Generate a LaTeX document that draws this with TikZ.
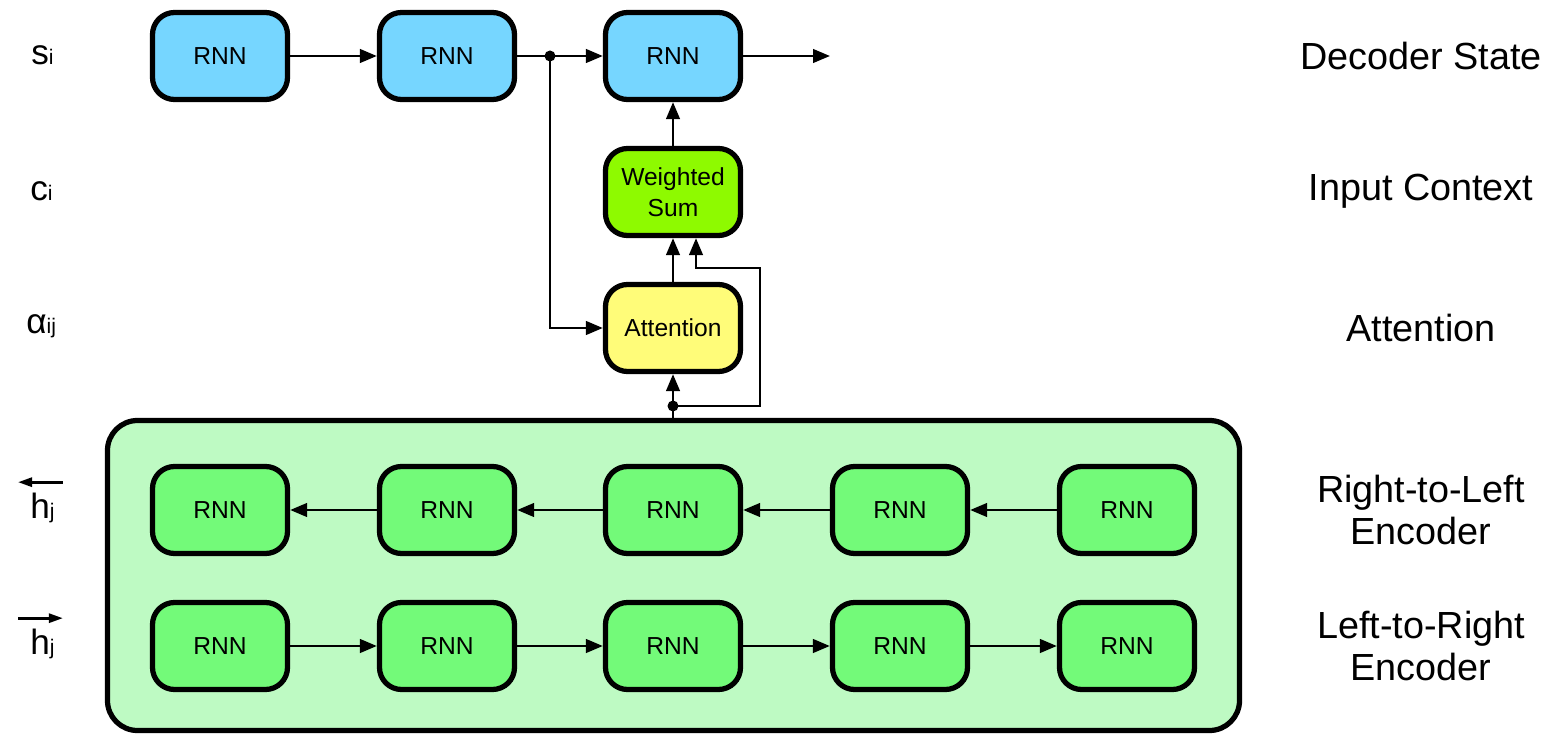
\documentclass[tikz,border=0pt]{standalone}
\usepackage{fontspec}
\setmainfont{Liberation Sans}
\usetikzlibrary{arrows.meta}
\definecolor{decblue}{HTML}{76D6FF}
\definecolor{sumgreen}{HTML}{8EFA00}
\definecolor{attyellow}{HTML}{FFFC79}
\definecolor{encgreen}{HTML}{73FA79}
\definecolor{encback}{HTML}{BEFAC3}
\tikzset{
  rnn/.style={draw, line width=1.05mm, rounded corners=4.4mm, minimum width=27mm,
    minimum height=17.4mm, align=center, font=\fontsize{14}{17.6}\selectfont},
  dec/.style={rnn, fill=decblue},
  enc/.style={rnn, fill=encgreen},
  arr/.style={-{Triangle[length=3.4mm,width=2.7mm]}, line width=0.55mm},
  overarr/.style={line width=0.55mm},
  side/.style={align=center, font=\fontsize{21.5}{24}\selectfont},
  sym/.style={inner sep=0pt, anchor=base west, font=\fontsize{20}{24}\selectfont},
}
\newcommand{\sub}[1]{{\fontsize{12}{14}\selectfont #1}}
\begin{document}
\begin{tikzpicture}[x=0.2mm, y=-0.2mm]
    \useasboundingbox (0,0) rectangle (1552,736);

    % Encoder background
    \node[draw, line width=1.05mm, rounded corners=6mm, fill=encback,
          minimum width=226.4mm, minimum height=62mm] (enc) at (673.5,575.5) {};

    % Nodes
    \node[dec] (Dec1) at (220,56) {RNN};
    \node[dec] (Dec2) at (447,56) {RNN};
    \node[dec] (Dec3) at (673,56) {RNN};
    \node[rnn, fill=sumgreen] (WSum) at (673,192) {Weighted\\Sum};
    \node[rnn, fill=attyellow] (Att) at (673,328) {Attention};

    \node[enc] (RL1) at (220,510) {RNN};
    \node[enc] (RL2) at (447,510) {RNN};
    \node[enc] (RL3) at (673,510) {RNN};
    \node[enc] (RL4) at (900,510) {RNN};
    \node[enc] (RL5) at (1127,510) {RNN};

    \node[enc] (LR1) at (220,646) {RNN};
    \node[enc] (LR2) at (447,646) {RNN};
    \node[enc] (LR3) at (673,646) {RNN};
    \node[enc] (LR4) at (900,646) {RNN};
    \node[enc] (LR5) at (1127,646) {RNN};

    \coordinate (Out) at (830,56);
    \coordinate (Split) at (550,56);
    \coordinate (Tap) at (673,406);
    \coordinate (Loop) at (760,268);

    % Labels
    \node[sym] (SI) at (31,65) {s\sub{i}};
    \node[sym] (CI) at (30,201) {c\sub{i}};
    \node[sym] (AIJ) at (26,334) {α\sub{ij}};
    \node[sym] (HL) at (30,518) {h\sub{j}};
    \node[sym] (HR) at (30,654) {h\sub{j}};

    \node[side] (LDec) at (1421,56) {Decoder State};
    \node[side] (LCtx) at (1421,191) {Input Context};
    \node[side] (LAtt) at (1421,328) {Attention};
    \node[side] (LRL) at (1421,510) {Right-to-Left\\Encoder};
    \node[side] (LLR) at (1421,646) {Left-to-Right\\Encoder};

    % Arrows
    \draw[arr] (Dec1) -- (Dec2);
    \draw[arr] (Dec2) -- (Dec3);
    \draw[arr] (Dec3) -- (Out);
    \draw[arr] (Split) |- (Att);
    \draw[arr] (Att) -- (WSum);
    \draw[arr] (WSum) -- (Dec3);
    \draw[arr] (Tap) -- (Att);
    \draw[line width=0.55mm] (Tap) -- (enc.north -| Tap);
    \draw[arr] (Tap) -| (Loop) -| ([xshift=4.6mm]WSum.south);
    \fill (Split) circle (1.1mm);
    \fill (Tap) circle (1.1mm);

    \draw[arr] (RL5) -- (RL4);
    \draw[arr] (RL4) -- (RL3);
    \draw[arr] (RL3) -- (RL2);
    \draw[arr] (RL2) -- (RL1);

    \draw[arr] (LR1) -- (LR2);
    \draw[arr] (LR2) -- (LR3);
    \draw[arr] (LR3) -- (LR4);
    \draw[arr] (LR4) -- (LR5);

    % arrows over h
    \draw[{Triangle[length=2.8mm,width=1.8mm]}-, overarr]
        ([shift={(-2.4mm,2mm)}]HL.north west) -- ([shift={(1.6mm,2mm)}]HL.north east);
    \draw[-{Triangle[length=2.8mm,width=1.8mm]}, overarr]
        ([shift={(-2.4mm,2mm)}]HR.north west) -- ([shift={(1.6mm,2mm)}]HR.north east);
\end{tikzpicture}
\end{document}
